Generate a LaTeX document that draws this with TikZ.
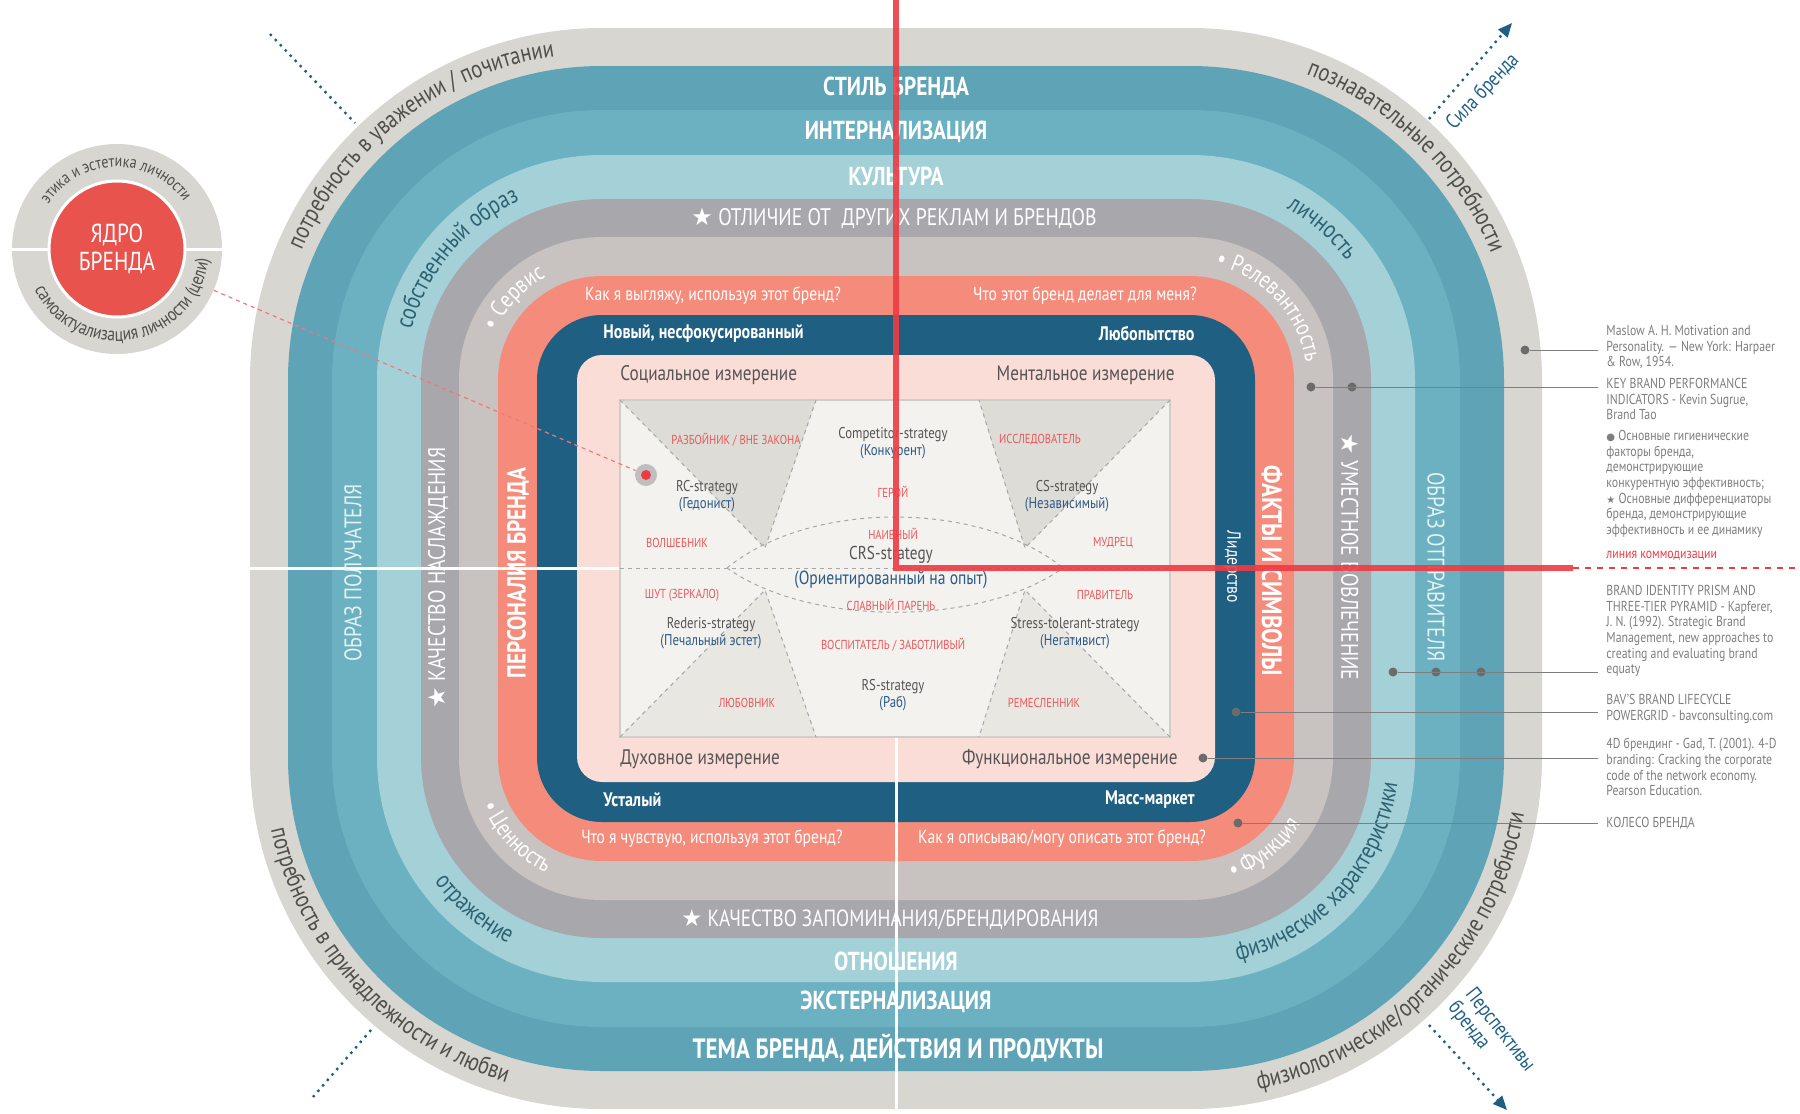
\documentclass[tikz,border=0pt]{standalone}
\usepackage{fontspec}
\setmainfont{PT Sans}[FakeStretch=0.82]
\newfontfamily\symfont{DejaVu Sans}
\usetikzlibrary{calc,decorations.text,arrows.meta}

\definecolor{ringout}{HTML}{D7D6D0}
\definecolor{tealdark}{HTML}{5EA3B6}
\definecolor{tealmid}{HTML}{6CB1C1}
\definecolor{teallight}{HTML}{A4D1D8}
\definecolor{greymid}{HTML}{A8A7AC}
\definecolor{greylight}{HTML}{C8C2C0}
\definecolor{salmon}{HTML}{F48B7B}
\definecolor{navy}{HTML}{1F5F82}
\definecolor{pinkcore}{HTML}{FBDDD7}
\definecolor{card}{HTML}{F3F2EE}
\definecolor{cardedge}{HTML}{CFCDC8}
\definecolor{cardshade}{HTML}{DDDCD6}
\definecolor{cardshadelt}{HTML}{E8E7E2}
\definecolor{archred}{HTML}{E8585A}
\definecolor{stratblue}{HTML}{2E5A87}
\definecolor{textgrey}{HTML}{555555}
\definecolor{arcgrey}{HTML}{4F4F4B}
\definecolor{arcteal}{HTML}{2D6273}
\definecolor{refgrey}{HTML}{7E7E7E}
\definecolor{refdot}{HTML}{6B6B6B}
\definecolor{linered}{HTML}{EE3B43}
\definecolor{corered}{HTML}{E8534E}
\definecolor{arrowblue}{HTML}{1F5F86}
\definecolor{mint}{HTML}{E3F2F2}

\newcommand{\starsym}{{\symfont ★}}
% text on a corner arc: centre, from, to (screen angles), radius, colour, size, text
\newcommand{\arclabel}[7]{%
  \pgfmathsetmacro{\arcA}{-(#2)}\pgfmathsetmacro{\arcB}{-(#3)}%
  \path[decorate, decoration={text along path, text align=center,
      text={|\color{#5}\fontsize{#6}{#6}\selectfont|#7}}]
    ($(#1)+(\arcA:#4)$) arc[start angle=\arcA, end angle=\arcB, radius=#4];}

\begin{document}
\begin{tikzpicture}[x=0.5pt,y=-0.5pt]
    \tikzset{
      bandlabel/.style={text=white, font=\bfseries\fontsize{13}{15}\selectfont, inner sep=0pt},
      bandplain/.style={text=white, font=\fontsize{12}{14}\selectfont, inner sep=0pt},
      question/.style={text=white, font=\fontsize{9.5}{11}\selectfont, inner sep=0pt},
      stagelabel/.style={text=white, font=\bfseries\fontsize{9.8}{11}\selectfont, inner sep=0pt},
      dimlabel/.style={text=textgrey, font=\fontsize{10.5}{12}\selectfont, inner sep=0pt},
      archetype/.style={text=archred, font=\fontsize{6.5}{8}\selectfont, inner sep=0pt},
      strategy/.style={text=textgrey, align=center, font=\fontsize{7.8}{8.6}\selectfont, inner sep=0pt},
      reftext/.style={text=refgrey, anchor=north west, align=left, font=\fontsize{7.2}{7.8}\selectfont, inner sep=0pt},
      refdot/.style={circle, fill=refdot, inner sep=0pt, minimum size=4.5pt},
      refline/.style={draw=refgrey, line width=0.5pt, shorten >=4pt},
      cardline/.style={draw=gray!70, line width=0.5pt, dash pattern=on 2pt off 2pt},
      dotline/.style={draw=arrowblue, line width=1.2pt, dash pattern=on 1.2pt off 2.4pt},
      sidenote/.style={text=arrowblue, font=\fontsize{10.5}{11}\selectfont, inner sep=0pt}
    }
    \useasboundingbox (0,0) rectangle (1800,1114);

    % rings
    \foreach \off/\col in {327/ringout, 289/tealdark, 245/tealmid, 200/teallight, 156/greymid, 118/greylight, 79/salmon, 40/navy, 0/pinkcore} {
      \pgfmathsetmacro{\rad}{(25+\off)*0.5}
      \fill[\col, rounded corners=\rad pt] (577-\off,355-\off) rectangle (1215+\off,782+\off);
    }
    \coordinate (ctl) at (602,380);
    \coordinate (ctr) at (1190,380);
    \coordinate (cbl) at (602,757);
    \coordinate (cbr) at (1190,757);

    \draw[white, line width=1.5pt] (250,568) -- (620,568);
    \draw[white, line width=1.5pt] (896,737) -- (896,1109);

    % card
    \filldraw[fill=card, draw=cardedge, line width=0.6pt] (620,400) rectangle (1170,737);
    \fill[cardshade] (621,401) -- (816,401) -- (765,548) -- cycle;
    \fill[cardshade] (979,401) -- (1169,401) -- (1025,548) -- cycle;
    \fill[cardshadelt] (621,736) -- (816,736) -- (765,590) -- cycle;
    \fill[cardshadelt] (979,736) -- (1169,736) -- (1025,590) -- cycle;
    \draw[cardline] (620,400) -- (765,548) -- (816,400);
    \draw[cardline] (1170,400) -- (1025,548) -- (979,400);
    \draw[cardline] (620,737) -- (765,590) -- (816,737);
    \draw[cardline] (1170,737) -- (1025,590) -- (979,737);
    \draw[cardline] (620,568) -- (1170,568);
    \draw[cardline] (727,568) .. controls (810,500) and (980,500) .. (1063,568);
    \draw[cardline] (727,568) .. controls (810,627) and (980,627) .. (1063,568);

    \node[archetype] (outlaw) at (736,440) {РАЗБОЙНИК / ВНЕ ЗАКОНА};
    \node[archetype] (explorer) at (1040,440) {ИССЛЕДОВАТЕЛЬ};
    \node[archetype] (hero) at (893,492) {ГЕРОЙ};
    \node[archetype] (magician) at (677,543) {ВОЛШЕБНИК};
    \node[archetype] (sage) at (1113,543) {МУДРЕЦ};
    \node[archetype] (innocent) at (893,534) {НАИВНЫЙ};
    \node[archetype] (jester) at (682,595) {ШУТ (ЗЕРКАЛО)};
    \node[archetype] (ruler) at (1105,595) {ПРАВИТЕЛЬ};
    \node[archetype] (everyman) at (891,605) {СЛАВНЫЙ ПАРЕНЬ};
    \node[archetype] (caregiver) at (893,645) {ВОСПИТАТЕЛЬ / ЗАБОТЛИВЫЙ};
    \node[archetype] (lover) at (747,703) {ЛЮБОВНИК};
    \node[archetype] (creator) at (1044,703) {РЕМЕСЛЕННИК};

    \node[strategy] (rc) at (707,496) {RC-strategy\\\textcolor{stratblue}{(Гедонист)}};
    \node[strategy] (competitor) at (893,443) {Competitor-strategy\\\textcolor{stratblue}{(Конкурент)}};
    \node[strategy] (cs) at (1067,496) {CS-strategy\\\textcolor{stratblue}{(Независимый)}};
    \node[strategy, font=\fontsize{9.3}{10}\selectfont] (crs) at (891,555) {CRS-strategy};
    \node[strategy, text=stratblue, font=\fontsize{9.5}{10}\selectfont] (crsnote) at (891,580) {(Ориентированный на опыт)};
    \node[strategy] (rederis) at (711,633) {Rederis-strategy\\\textcolor{stratblue}{(Печальный эстет)}};
    \node[strategy] (stress) at (1075,633) {Stress-tolerant-strategy\\\textcolor{stratblue}{(Негативист)}};
    \node[strategy] (rs) at (893,695) {RS-strategy\\\textcolor{stratblue}{(Раб)}};

    % band labels
    \node[bandlabel] (brandstyle) at (896,88) {СТИЛЬ БРЕНДА};
    \node[bandlabel] (intern) at (896,132) {ИНТЕРНАЛИЗАЦИЯ};
    \node[bandlabel] (culture) at (896,176) {КУЛЬТУРА};
    \node[bandplain] (distinct) at (894,218) {\starsym\ ОТЛИЧИЕ ОТ\ \ ДРУГИХ РЕКЛАМ И БРЕНДОВ};
    \node[question] (qlook) at (713,296) {Как я выгляжу, используя этот бренд?};
    \node[question] (qdo) at (1085,296) {Что этот бренд делает для меня?};
    \node[stagelabel, anchor=west] (newstage) at (603,334) {Новый, несфокусированный};
    \node[stagelabel, anchor=east] (curious) at (1195,334) {Любопытство};
    \node[dimlabel, anchor=west] (social) at (620,375) {Социальное измерение};
    \node[dimlabel, anchor=east] (mental) at (1175,375) {Ментальное измерение};
    \node[dimlabel, anchor=west] (spirit) at (620,759) {Духовное измерение};
    \node[dimlabel, anchor=east] (functional) at (1178,759) {Функциональное измерение};
    \node[stagelabel, anchor=west] (tired) at (603,800) {Усталый};
    \node[stagelabel, anchor=east] (mass) at (1195,800) {Масс-маркет};
    \node[question] (qfeel) at (712,839) {Что я чувствую, используя этот бренд?};
    \node[question] (qdescr) at (1062,839) {Как я описываю/могу описать этот бренд?};
    \node[bandplain, font=\fontsize{11.7}{14}\selectfont] (recall) at (890,920) {\starsym\ КАЧЕСТВО ЗАПОМИНАНИЯ/БРЕНДИРОВАНИЯ};
    \node[bandlabel] (relations) at (896,961) {ОТНОШЕНИЯ};
    \node[bandlabel] (extern) at (896,1002) {ЭКСТЕРНАЛИЗАЦИЯ};
    \node[bandlabel, font=\bfseries\fontsize{14}{16}\selectfont] (theme) at (898,1048) {ТЕМА БРЕНДА, ДЕЙСТВИЯ И ПРОДУКТЫ};

    \node[bandplain, text=mint, rotate=90] (receiver) at (353,573) {ОБРАЗ ПОЛУЧАТЕЛЯ};
    \node[bandplain, rotate=90] (pleasure) at (438,578) {\starsym\ КАЧЕСТВО НАСЛАЖДЕНИЯ};
    \node[bandlabel, rotate=90] (persona) at (518,573) {ПЕРСОНАЛИЯ БРЕНДА};
    \node[question, rotate=-90] (leader) at (1232,567) {Лидерство};
    \node[bandlabel, rotate=-90, font=\bfseries\fontsize{14}{16}\selectfont] (facts) at (1272,571) {ФАКТЫ И СИМВОЛЫ};
    \node[bandplain, rotate=-90] (engage) at (1350,557) {\starsym\ УМЕСТНОЕ ВОВЛЕЧЕНИЕ};
    \node[bandplain, text=mint, rotate=-90] (sender) at (1436,567) {ОБРАЗ ОТПРАВИТЕЛЯ};

    % corner arcs
    \arclabel{ctl}{177}{78}{327}{arcgrey}{12.5}{потребность в уважении / почитании}
    \arclabel{ctl}{190}{90}{197}{arcteal}{12.5}{собственный образ}
    \arclabel{ctl}{187}{87}{117}{white}{12}{• Сервис}
    \arclabel{ctr}{96}{-4}{327}{arcgrey}{12.5}{познавательные потребности}
    \arclabel{ctr}{99}{-1}{197}{arcteal}{12.5}{личность}
    \arclabel{ctr}{93}{-7}{117}{white}{12}{• Релевантность}
    \arclabel{cbl}{173}{273}{339}{arcgrey}{12.5}{потребность в принадлежности и любви}
    \arclabel{cbl}{180}{280}{209}{arcteal}{12.5}{отражение}
    \arclabel{cbl}{173}{273}{129}{white}{12}{• Ценность}
    \arclabel{cbr}{266}{366}{339}{arcgrey}{12.5}{физиологические/органические потребности}
    \arclabel{cbr}{268}{368}{209}{arcteal}{12.5}{физические характеристики}
    \arclabel{cbr}{259}{359}{129}{white}{12}{• Функция}

    % brand core
    \node[circle, fill=ringout, minimum size=105pt, inner sep=0pt] (corering) at (117,249) {};
    \draw[white, line width=1.5pt] (corering.west) -- (corering.east);
    \node[circle, fill=corered, draw=white, line width=1.5pt, minimum size=68pt, inner sep=0pt,
          text=white, align=center, font=\fontsize{13}{14}\selectfont] (core) at (117,249) {ЯДРО\\БРЕНДА};
    \coordinate (corec) at (117,249);
    \arclabel{corec}{171}{11}{82}{arcgrey}{8.5}{этика и эстетика личности}
    \arclabel{corec}{180}{380}{92}{arcgrey}{9.5}{самоактуализация личности (цели)}

    \node[circle, fill=gray!50, minimum size=11pt, inner sep=0pt] (rchalo) at (646,475) {};
    \node[circle, fill=linered, minimum size=5pt, inner sep=0pt] (rcdot) at (646,475) {};
    \draw[linered!70, line width=0.6pt, dash pattern=on 2pt off 2pt] (corering) -- (rchalo);

    % strength / perspective arrows
    \coordinate (tlA) at (270,34);
    \coordinate (tlB) at (355,123);
    \draw[dotline] (tlA) -- (tlB);
    \coordinate (blA) at (371,1030);
    \coordinate (blB) at (313,1097);
    \draw[dotline] (blA) -- (blB);
    \coordinate (trA) at (1429,119);
    \coordinate (trB) at (1512,23);
    \draw[dotline, -{Triangle[length=7pt,width=6pt]}] (trA) -- (trB);
    \node[sidenote, rotate=47] (power) at (1483,92) {Сила бренда};
    \coordinate (brA) at (1429,1025);
    \coordinate (brB) at (1507,1110);
    \draw[dotline, -{Triangle[length=7pt,width=6pt]}] (brA) -- (brB);
    \node[sidenote, rotate=-52, align=left] (outlook) at (1491,1037) {Перспективы\\бренда};

    % references
    \node[reftext] (maslow) at (1606,325) {Maslow A. H. Motivation and\\Personality. — New York: Harpaer\\\& Row, 1954.};
    \node[reftext] (kbpi) at (1606,378) {KEY BRAND PERFORMANCE\\INDICATORS - Kevin Sugrue,\\Brand Tao};
    \node[reftext] (hygiene) at (1606,430) {{\symfont\fontsize{5}{5}\selectfont ●} Основные гигиенические\\факторы бренда,\\демонстрирующие\\конкурентную эффективность;\\{\symfont\fontsize{5}{5}\selectfont ★} Основные дифференциаторы\\бренда, демонстрирующие\\эффективность и ее динамику};
    \node[reftext, anchor=west, text=linered] (commod) at (1606,556) {линия коммодизации};
    \node[reftext] (prism) at (1606,585) {BRAND IDENTITY PRISM AND\\THREE-TIER PYRAMID - Kapferer,\\J. N. (1992). Strategic Brand\\Management, new approaches to\\creating and evaluating brand\\equaty};
    \node[reftext] (bav) at (1606,694) {BAV'S BRAND LIFECYCLE\\POWERGRID - bavconsulting.com};
    \node[reftext] (gad) at (1606,738) {4D брендинг - Gad, T. (2001). 4-D\\branding: Cracking the corporate\\code of the network economy.\\Pearson Education.};
    \node[reftext, anchor=west] (wheel) at (1606,823) {КОЛЕСО БРЕНДА};

    \node[refdot] (dm1) at (1525,350) {};
    \node[refdot] (dk1) at (1311,387) {};
    \node[refdot] (dk2) at (1352,387) {};
    \node[refdot] (dp1) at (1393,672) {};
    \node[refdot] (dp2) at (1436,672) {};
    \node[refdot] (dp3) at (1481,672) {};
    \node[refdot] (db1) at (1236,712) {};
    \node[refdot] (dg1) at (1203,758) {};
    \node[refdot] (dw1) at (1238,823) {};
    \draw[refline] (dm1) -- (dm1 -| maslow.west);
    \draw[refline] (dk1) -- (dk1 -| kbpi.west);
    \draw[refline] (dp1) -- (dp1 -| prism.west);
    \draw[refline] (db1) -- (db1 -| bav.west);
    \draw[refline] (dg1) -- (dg1 -| gad.west);
    \draw[refline] (dw1) -- (wheel.west);

    % commodity line
    \draw[linered, line width=3pt, opacity=0.9] (896,0) -- (896,568) -- (1573,568);
    \draw[linered, line width=0.8pt, dash pattern=on 3pt off 3pt] (1573,568) -- (1800,568);
\end{tikzpicture}
\end{document}
